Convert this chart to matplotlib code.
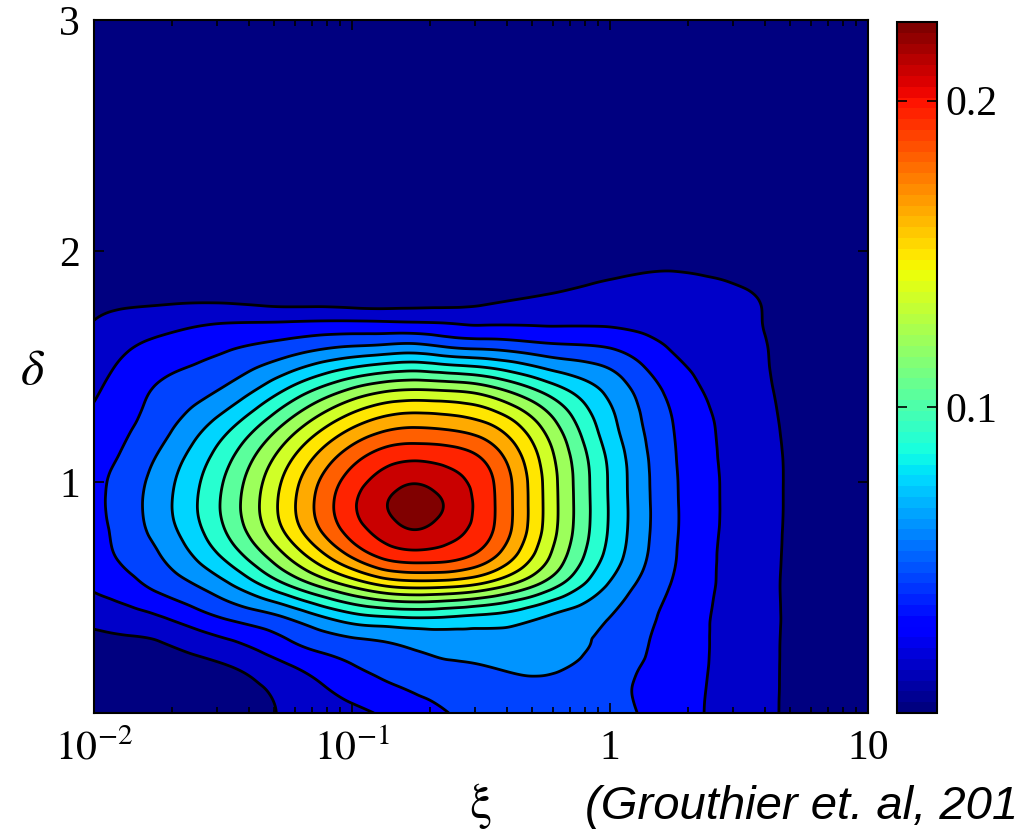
import numpy as np
import matplotlib
matplotlib.use("Agg")
import matplotlib.pyplot as plt
import matplotlib.tri as mtri
from matplotlib.colors import Normalize
from matplotlib.cm import ScalarMappable
from matplotlib.ticker import LogLocator, NullLocator, NullFormatter

plt.rcParams['font.family'] = ['Liberation Serif', 'DejaVu Serif']
plt.rcParams['mathtext.fontset'] = 'stix'

# sample positions of the efficiency map
log_xi = [-2.0, -1.875, -1.75, -1.5, -1.25, -1.0, -0.875, -0.75, -0.625, -0.5,
          -0.25, 0.0, 0.25, 0.5, 0.75, 1.0]
delta = [0.0, 0.2, 0.3, 0.4, 0.55, 0.7, 0.8, 0.9, 1.0, 1.1, 1.25, 1.4,
         1.6, 1.7, 1.8, 2.0, 2.4, 3.0]

# efficiency eta, one row per delta value
eta_d000 = [0.002, 0.0035, 0.0055, 0.009, 0.0166, 0.0266, 0.032, 0.0385, 0.045, 0.0485, 0.0525, 0.050, 0.0366, 0.0228, 0.011, 0.0055]
eta_d020 = [0.006, 0.0065, 0.0095, 0.0138, 0.0282, 0.0439, 0.0497, 0.0543, 0.0571, 0.0591, 0.063, 0.0512, 0.0378, 0.0231, 0.0112, 0.0055]
eta_d030 = [0.0105, 0.0116, 0.014, 0.0256, 0.0426, 0.0552, 0.0588, 0.063, 0.0664, 0.0683, 0.0686, 0.0551, 0.0385, 0.0233, 0.0112, 0.0055]
eta_d040 = [0.0185, 0.022, 0.0264, 0.0432, 0.0578, 0.0791, 0.0833, 0.0855, 0.0846, 0.0822, 0.0722, 0.0591, 0.0393, 0.0235, 0.0113, 0.0055]
eta_d055 = [0.0319, 0.0389, 0.0486, 0.070, 0.1035, 0.1368, 0.1498, 0.1543, 0.1526, 0.1453, 0.1133, 0.0727, 0.0433, 0.0237, 0.0113, 0.0055]
eta_d070 = [0.037, 0.0496, 0.0602, 0.0945, 0.1397, 0.1868, 0.2034, 0.2088, 0.205, 0.1936, 0.1408, 0.0855, 0.0461, 0.024, 0.0115, 0.0055]
eta_d080 = [0.040, 0.0518, 0.0659, 0.1041, 0.1544, 0.2025, 0.2178, 0.2257, 0.2172, 0.2035, 0.1467, 0.0882, 0.0469, 0.0246, 0.0115, 0.0055]
eta_d090 = [0.041, 0.0529, 0.0678, 0.1071, 0.1583, 0.2073, 0.2238, 0.2305, 0.2228, 0.205, 0.1475, 0.0885, 0.0469, 0.0249, 0.0115, 0.0055]
eta_d100 = [0.041, 0.0517, 0.0663, 0.1049, 0.1552, 0.2022, 0.2172, 0.2241, 0.2165, 0.2033, 0.147, 0.0881, 0.0466, 0.0249, 0.0115, 0.0055]
eta_d110 = [0.040, 0.048, 0.0619, 0.0988, 0.1463, 0.1902, 0.204, 0.2084, 0.205, 0.1955, 0.1438, 0.0868, 0.0459, 0.0245, 0.0115, 0.0055]
eta_d125 = [0.034, 0.0426, 0.0528, 0.0824, 0.1228, 0.1614, 0.1731, 0.1768, 0.1745, 0.1681, 0.1298, 0.0799, 0.0444, 0.0235, 0.011, 0.0052]
eta_d140 = [0.028, 0.0375, 0.0466, 0.0613, 0.0912, 0.1219, 0.1318, 0.135, 0.1332, 0.128, 0.1, 0.0705, 0.0395, 0.0212, 0.0105, 0.005]
eta_d160 = [0.0193, 0.0273, 0.0328, 0.0413, 0.0486, 0.0565, 0.0583, 0.0595, 0.054, 0.0513, 0.0454, 0.0413, 0.0273, 0.0185, 0.0102, 0.005]
eta_d170 = [0.015, 0.0193, 0.0225, 0.0278, 0.0285, 0.0293, 0.0286, 0.0277, 0.027, 0.0257, 0.0264, 0.0266, 0.023, 0.0175, 0.01, 0.0049]
eta_d180 = [0.0112, 0.0115, 0.0115, 0.0111, 0.0069, 0.0053, 0.0046, 0.0067, 0.0072, 0.0103, 0.0159, 0.0196, 0.0191, 0.0165, 0.0096, 0.0047]
eta_d200 = [0.0063, 0.0042, 0.0025, 0.0011, 0.0003, 0.0002, 0.0002, 0.0003, 0.0004, 0.0012, 0.004, 0.008, 0.0117, 0.009, 0.007, 0.0043]
eta_d240 = [0.003, 0.0018, 0.0008, 0.0002, 0.0001, 0.0001, 0.0001, 0.0001, 0.0001, 0.0002, 0.001, 0.003, 0.005, 0.0045, 0.004, 0.003]
eta_d300 = [0.001, 0.0006, 0.0003, 0.0001, 0.0, 0.0, 0.0, 0.0, 0.0, 0.0, 0.0003, 0.001, 0.0015, 0.0015, 0.0015, 0.0012]

eta_rows = [eta_d000, eta_d020, eta_d030, eta_d040, eta_d055, eta_d070,
            eta_d080, eta_d090, eta_d100, eta_d110, eta_d125, eta_d140,
            eta_d160, eta_d170, eta_d180, eta_d200, eta_d240, eta_d300]

contour_levels = [0.015, 0.03, 0.045, 0.06, 0.075, 0.09, 0.105, 0.12, 0.135,
                  0.15, 0.165, 0.18, 0.195, 0.21, 0.225]
cbar_ticks = [0.1, 0.2]
cbar_max = 0.2257


def grid_interp(u, v, z, flip):
    # cubic tri interpolator on the sample grid, one diagonal per cell
    uu, vv = np.meshgrid(u, v)
    nu = len(u)
    tris = []
    for j in range(len(v) - 1):
        for i in range(nu - 1):
            a = j * nu + i
            if flip:
                tris.append([a, a + 1, a + nu])
                tris.append([a + 1, a + nu + 1, a + nu])
            else:
                tris.append([a, a + 1, a + nu + 1])
                tris.append([a, a + nu + 1, a + nu])
    tri = mtri.Triangulation(uu.ravel(), vv.ravel(), np.array(tris))
    return mtri.CubicTriInterpolator(tri, np.asarray(z).ravel(), kind='min_E')


eta = np.array(eta_rows)
interp_a = grid_interp(log_xi, delta, eta, False)
interp_b = grid_interp(log_xi, delta, eta, True)

uf = np.linspace(log_xi[0] + 1e-6, log_xi[-1] - 1e-6, 700)
vf = np.linspace(delta[0] + 1e-6, delta[-1] - 1e-6, 700)
UF, VF = np.meshgrid(uf, vf)
# both diagonal directions, so the smoothing has no tilt
ZF = 0.5 * (np.ma.filled(interp_a(UF, VF), 0.0) + np.ma.filled(interp_b(UF, VF), 0.0))
XF = 10.0 ** UF

cmap = plt.get_cmap('jet', 64)
fill_levels = [-1.0] + contour_levels + [1.0]
band_colors = [cmap(min(v / cbar_max, 1.0)) for v in [0.0] + contour_levels]

fig = plt.figure(figsize=(10.17, 8.32), dpi=100)
ax = fig.add_axes([94 / 1017, 119 / 832, 774 / 1017, 693 / 832])
ax.set_xscale('log')
ax.contourf(XF, VF, ZF, levels=fill_levels, colors=band_colors)
ax.contour(XF, VF, ZF, levels=contour_levels, colors='k', linewidths=2.0)

ax.set_xlim(1e-2, 10)
ax.set_ylim(0, 3)
ax.set_xticks([1e-2, 1e-1, 1, 10])
ax.set_xticklabels(['$10^{-2}$', '$10^{-1}$', '1', '10'])
ax.xaxis.set_minor_locator(LogLocator(base=10, subs=np.arange(2, 10)))
ax.xaxis.set_minor_formatter(NullFormatter())
ax.set_yticks([1, 2, 3])
ax.set_yticklabels(['1', '2', '3'])
ax.yaxis.set_minor_locator(NullLocator())
ax.tick_params(which='both', direction='in', top=True, right=True,
               width=1.2, labelsize=30)
ax.tick_params(which='major', length=7)
ax.tick_params(which='minor', length=4)
ax.tick_params(axis='x', pad=12)
ax.tick_params(axis='y', pad=10)
for sp in ax.spines.values():
    sp.set_linewidth(1.5)

cax = fig.add_axes([897 / 1017, 119 / 832, 40 / 1017, 691 / 832])
sm = ScalarMappable(norm=Normalize(0, cbar_max), cmap=cmap)
cb = fig.colorbar(sm, cax=cax, ticks=cbar_ticks)
cb.ax.set_yticklabels(['0.1', '0.2'])
cb.ax.tick_params(direction='in', length=7, width=1.2, left=True, right=True,
                  labelsize=30, pad=6)
cb.outline.set_linewidth(1.5)

fig.text(480 / 1017, 1 - 806 / 832, r'$\mathrm{\xi}$', fontsize=36, ha='center', va='center')
fig.text(33 / 1017, 1 - 372 / 832, r'$\delta$', fontsize=36, ha='center', va='center')
fig.text(585 / 1017, 1 - 819 / 832, '(Grouthier et. al, 201', fontsize=34,
         family='Liberation Sans', style='italic', ha='left', va='baseline')

fig.savefig('out.png', dpi=100)
